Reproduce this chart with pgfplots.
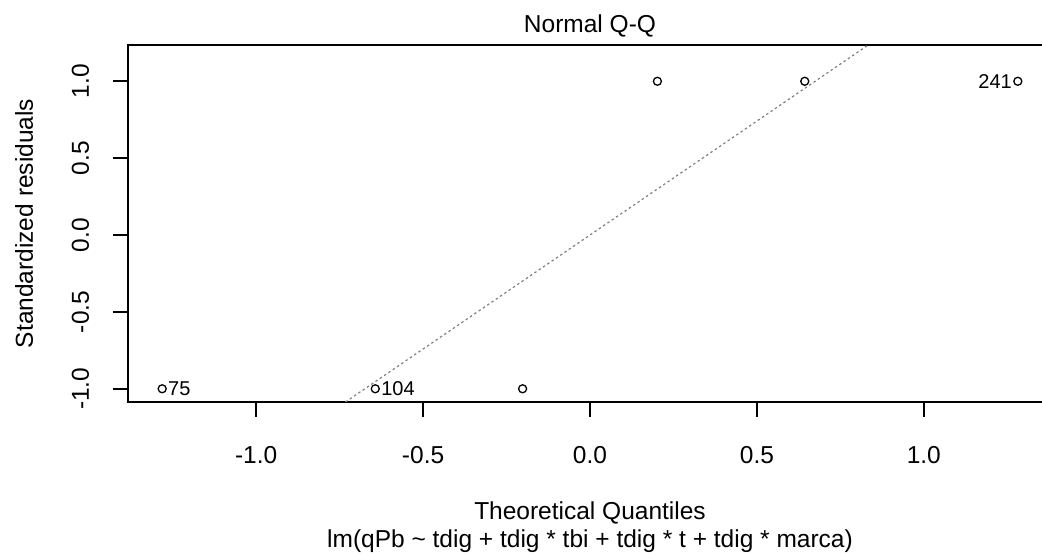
\documentclass[border=0pt]{standalone}
\usepackage{fontspec}
\setmainfont{Liberation Sans}
\usepackage{pgfplots}
\pgfplotsset{compat=1.18}
\definecolor{qqgray}{HTML}{7F7F7F}
\begin{document}
\begin{tikzpicture}
\useasboundingbox (-64pt,-76.5pt) rectangle (457pt,201pt);
\clip (-64pt,-76.5pt) rectangle (457pt,201pt);
\begin{axis}[
  name=ax,
  scale only axis, width=462pt, height=178.5pt,
  at={(0,0)}, anchor=south west,
  xmin=-1.384, xmax=1.384, ymin=-1.086, ymax=1.236,
  axis line style={line width=0.9pt, black},
  tick style={line width=0.9pt, black},
  tick align=outside, tick pos=left,
  major tick length=7.5pt,
  xtick={-1,-0.5,0,0.5,1}, ytick={-1,-0.5,0,0.5,1},
  xticklabel style={/pgf/number format/assume math mode=true, /pgf/number format/fixed, /pgf/number format/fixed zerofill, /pgf/number format/precision=1, font=\fontsize{12.25}{14}\selectfont, inner sep=0pt, anchor=base, yshift=-23pt},
  yticklabel style={/pgf/number format/assume math mode=true, /pgf/number format/fixed, /pgf/number format/fixed zerofill, /pgf/number format/precision=1, font=\fontsize{12.25}{14}\selectfont, inner sep=0pt, rotate=90, anchor=base, yshift=12pt},
]
\addplot[qqgray, line width=0.6pt, dash pattern=on 1.2pt off 1.4pt] coordinates {(-0.7325,-1.086) (0.8336,1.236)};
\addplot[only marks, mark=o, mark size=2pt, mark options={line width=0.65pt, black}] coordinates {
(-1.2816,-1) (-0.6433,-1) (-0.2019,-1) (0.2019,1) (0.6433,1) (1.2816,1)};
\node[anchor=west, inner sep=0pt, xshift=2.8pt, font=\fontsize{10}{12}\selectfont] at (axis cs:-1.2816,-1) {75};
\node[anchor=west, inner sep=0pt, xshift=2.8pt, font=\fontsize{10}{12}\selectfont] at (axis cs:-0.6433,-1) {104};
\node[anchor=east, inner sep=0pt, xshift=-2.8pt, font=\fontsize{10}{12}\selectfont] at (axis cs:1.2816,1) {241};
\end{axis}
\node[anchor=base, inner sep=0pt, font=\fontsize{12.25}{14}\selectfont] at ([yshift=6pt]ax.north) {Normal Q-Q};
\node[anchor=base, inner sep=0pt, font=\fontsize{12.25}{14}\selectfont] at ([yshift=-59pt]ax.south) {Theoretical Quantiles};
\node[anchor=base, inner sep=0pt, font=\fontsize{12.25}{14}\selectfont] at ([yshift=-73pt]ax.south) {lm(qPb \textasciitilde{} tdig + tdig * tbi + tdig * t + tdig * marca)};
\node[anchor=base, rotate=90, inner sep=0pt, font=\fontsize{12.25}{14}\selectfont] at ([xshift=-47.5pt]ax.west) {Standardized residuals};
\end{tikzpicture}
\end{document}
